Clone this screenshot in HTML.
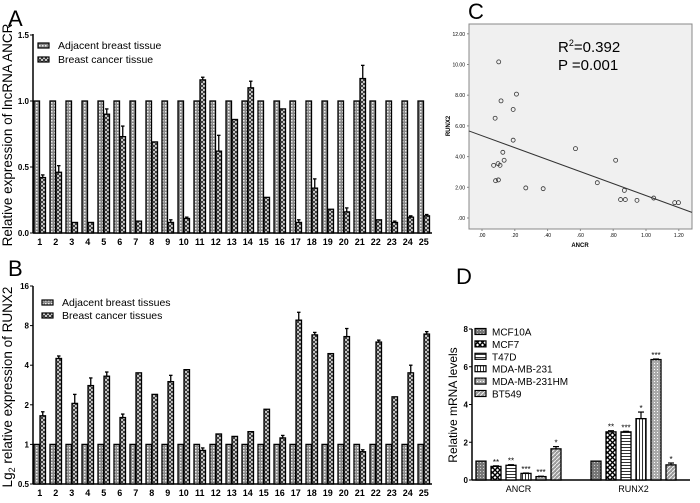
<!DOCTYPE html>
<html><head><meta charset="utf-8"><style>
body{margin:0;background:#fff;}
svg{display:block;font-family:"Liberation Sans",Arial,sans-serif;}
</style></head><body>
<svg id="fig" width="700" height="503" viewBox="0 0 700 503">
<defs>
<pattern id="pAdj" width="3" height="3" patternUnits="userSpaceOnUse"><rect width="3" height="3" fill="#888"/><rect width="1.5" height="1.5" fill="#eee"/></pattern>
<pattern id="pCan" width="4" height="4" patternUnits="userSpaceOnUse"><rect width="4" height="4" fill="#fff"/><path d="M0 0L4 4M4 0L0 4" stroke="#333" stroke-width="1.1"/></pattern>
<pattern id="pD0" width="3" height="3" patternUnits="userSpaceOnUse"><rect width="3" height="3" fill="#777"/><rect width="1" height="1" fill="#ccc"/></pattern>
<pattern id="pD1" width="5" height="5" patternUnits="userSpaceOnUse"><rect width="5" height="5" fill="#fff"/><path d="M0 0L5 5M5 0L0 5" stroke="#000" stroke-width="1.4"/></pattern>
<pattern id="pD2" width="4" height="3" patternUnits="userSpaceOnUse"><rect width="4" height="3" fill="#fff"/><rect y="0" width="4" height="1" fill="#333"/></pattern>
<pattern id="pD3" width="3" height="4" patternUnits="userSpaceOnUse"><rect width="3" height="4" fill="#fff"/><rect width="1" height="4" fill="#333"/></pattern>
<pattern id="pD4" width="3" height="3" patternUnits="userSpaceOnUse"><rect width="3" height="3" fill="#aaa"/><rect width="1" height="1" fill="#fff"/></pattern>
<pattern id="pD5" width="4" height="4" patternUnits="userSpaceOnUse"><rect width="4" height="4" fill="#999"/><path d="M0 4L4 0" stroke="#eee" stroke-width="1"/></pattern>
</defs>
<g id="gA"></g>
<g id="gB"></g>
<g id="gC"></g>
<g id="gD"></g>
</svg>
<script>
// Panel A data
const aCats=["1","2","3","4","5","6","7","8","9","10","11","12","13","14","15","16","17","18","19","20","21","22","23","24","25"];
const aAdj=[1,1,1,1,1,1,1,1,1,1,1,1,1,1,1,1,1,1,1,1,1,1,1,1,1];
const aCan=[0.42,0.46,0.08,0.08,0.9,0.73,0.09,0.69,0.08,0.11,1.16,0.62,0.86,1.1,0.27,0.94,0.08,0.34,0.18,0.16,1.17,0.1,0.08,0.12,0.13];
const aErr=[0.02,0.05,0,0,0.04,0.08,0,0,0.02,0.01,0.02,0.12,0,0.05,0,0,0.02,0.07,0,0.03,0.1,0,0.01,0.01,0.01];
const aTicks=[0,0.5,1.0,1.5];
// Panel B data
const bAdj=[1,1,1,1,1,1,1,1,1,1,1,1,1,1,1,1,1,1,1,1,1,1,1,1,1];
const bCan=[1.65,4.5,2.05,2.8,3.3,1.6,3.5,2.4,3.0,3.7,0.9,1.2,1.15,1.25,1.85,1.12,8.8,6.8,4.9,6.6,0.88,6.0,2.3,3.5,6.9];
const bErr=[0.12,0.2,0.35,0.4,0.25,0.1,0,0,0.35,0,0.04,0,0,0,0,0.05,1.3,0.3,0,1.0,0.03,0.2,0,0.5,0.3];
const bTicks=[0.5,1,2,4,8,16];
// Panel C data
const cX=[0.102,0.21,0.116,0.19,0.08,0.19,0.57,0.815,0.127,0.135,0.071,0.098,0.11,0.083,0.1,0.267,0.373,0.703,0.868,0.845,0.874,0.945,1.047,1.175,1.198];
const cY=[10.17,8.07,7.63,7.07,6.5,5.07,4.52,3.76,4.28,3.76,3.43,3.54,3.43,2.43,2.48,1.96,1.91,2.3,1.8,1.2,1.2,1.15,1.3,1.0,1.0];
const cFit=[5.36,-3.9]; // intercept, slope
const cXTicks=[0,0.2,0.4,0.6,0.8,1.0,1.2];
const cYTicks=[0,2,4,6,8,10,12];
// Panel D data
const dGroups=["ANCR","RUNX2"];
const dLines=["MCF10A","MCF7","T47D","MDA-MB-231","MDA-MB-231HM","BT549"];
const dANCR=[1,0.72,0.78,0.35,0.18,1.65];
const dRUNX2=[1,2.55,2.55,3.25,6.38,0.8];
const dErrA=[0,0.03,0.03,0.02,0.02,0.12];
const dErrR=[0,0.06,0.03,0.35,0.03,0.1];
const dStarA=["","**","**","***","***","*"];
const dStarR=["","**","***","*","***","*"];
const dTicks=[0,2,4,6,8];

const NS="http://www.w3.org/2000/svg";
function mk(p,t,a,txt){const e=document.createElementNS(NS,t);for(const k in a)e.setAttribute(k,a[k]);if(txt!==undefined)e.textContent=txt;p.appendChild(e);return e;}

// ---------- Panel A ----------
(function(){
const g=document.getElementById('gA');
const y=v=>233-v*132; const x0=34,pitch=16,bw=5.5;
let t=mk(g,'text',{x:8,y:26,'font-size':22},'A');


mk(g,'line',{x1:33,y1:34,x2:33,y2:233.5,stroke:'#000','stroke-width':1.5});
mk(g,'line',{x1:33,y1:233,x2:432,y2:233,stroke:'#000','stroke-width':1.5});
aTicks.forEach(v=>{mk(g,'line',{x1:30,y1:y(v),x2:33,y2:y(v),stroke:'#000'});
 t=mk(g,'text',{x:29,y:y(v)+3,'font-size':8,'font-weight':'bold','text-anchor':'end'},v.toFixed(1));
 
 });
t=mk(g,'text',{transform:'translate(12,135) rotate(-90)','font-size':13.5,'text-anchor':'middle'},'Relative expression of  lncRNA ANCR');


aCats.forEach((c,i)=>{const xa=x0+i*pitch;
 let r=mk(g,'rect',{x:xa,y:y(aAdj[i]),width:bw,height:233-y(aAdj[i]),fill:'url(#pAdj)',stroke:'#000','stroke-width':1.3});
 
 
 const xc=xa+bw+0.5;
 if(aErr[i]>0){mk(g,'line',{x1:xc+bw/2,y1:y(aCan[i]),x2:xc+bw/2,y2:y(aCan[i]+aErr[i]),stroke:'#000','stroke-width':1.3});
  mk(g,'line',{x1:xc+1,y1:y(aCan[i]+aErr[i]),x2:xc+bw-1,y2:y(aCan[i]+aErr[i]),stroke:'#000','stroke-width':1.3});}
 r=mk(g,'rect',{x:xc,y:y(aCan[i]),width:bw,height:233-y(aCan[i]),fill:'url(#pCan)',stroke:'#000','stroke-width':1.3});
 
 
 t=mk(g,'text',{x:xa+bw+0.3,y:245,'font-size':9,'font-weight':'bold','text-anchor':'middle'},c);
 
 });
[['url(#pAdj)','Adjacent breast tissue',47],['url(#pCan)','Breast cancer tissue',61]].forEach(l=>{
 const le=mk(g,'g',{});
 
 
 mk(le,'rect',{x:38,y:l[2]-4,width:11,height:5,fill:l[0],stroke:'#000','stroke-width':1.2});
 mk(le,'text',{x:58,y:l[2]+2,'font-size':10.5},l[1]);});
})();

// ---------- Panel B ----------
(function(){
const g=document.getElementById('gB');
const y=v=>484-(Math.log2(v)+1)*39.6; const x0=34,pitch=16,bw=5.5,base=484;
let t=mk(g,'text',{x:8,y:276,'font-size':22},'B');


mk(g,'line',{x1:33,y1:286,x2:33,y2:484.5,stroke:'#000','stroke-width':1.5});
mk(g,'line',{x1:33,y1:484,x2:432,y2:484,stroke:'#000','stroke-width':1.5});
bTicks.forEach(v=>{mk(g,'line',{x1:30,y1:y(v),x2:33,y2:y(v),stroke:'#000'});
 t=mk(g,'text',{x:29,y:y(v)+3,'font-size':8,'font-weight':'bold','text-anchor':'end'},String(v));
 
 });
t=mk(g,'text',{transform:'translate(12,387) rotate(-90)','font-size':13.5,'text-anchor':'middle'});
t.innerHTML='Lg<tspan font-size="9" dy="3">2</tspan><tspan dy="-3"> relative expression of  RUNX2</tspan>';


aCats.forEach((c,i)=>{const xa=x0+i*pitch;
 let r=mk(g,'rect',{x:xa,y:y(bAdj[i]),width:bw,height:base-y(bAdj[i]),fill:'url(#pAdj)',stroke:'#000','stroke-width':1.3});
 
 
 const xc=xa+bw+0.5;
 if(bErr[i]>0){const te=y(bCan[i]+bErr[i]);mk(g,'line',{x1:xc+bw/2,y1:y(bCan[i]),x2:xc+bw/2,y2:te,stroke:'#000','stroke-width':1.3});
  mk(g,'line',{x1:xc+1,y1:te,x2:xc+bw-1,y2:te,stroke:'#000','stroke-width':1.3});}
 r=mk(g,'rect',{x:xc,y:y(bCan[i]),width:bw,height:base-y(bCan[i]),fill:'url(#pCan)',stroke:'#000','stroke-width':1.3});
 
 
 t=mk(g,'text',{x:xa+bw+0.3,y:496,'font-size':9,'font-weight':'bold','text-anchor':'middle'},c);
 
 });
[['url(#pAdj)','Adjacent breast tissues',304],['url(#pCan)','Breast cancer tissues',317]].forEach(l=>{
 const le=mk(g,'g',{});
 
 
 mk(le,'rect',{x:42,y:l[2]-4,width:11,height:5,fill:l[0],stroke:'#000','stroke-width':1.2});
 mk(le,'text',{x:62,y:l[2]+2,'font-size':10.5},l[1]);});
})();

// ---------- Panel C ----------
(function(){
const g=document.getElementById('gC');
const x=v=>482+v/0.2*32.8, y=v=>218-v/2*30.7;
let t=mk(g,'text',{x:468,y:19,'font-size':22},'C');


let r=mk(g,'rect',{x:469,y:24,width:223,height:205,fill:'#f0f0f0',stroke:'#888','stroke-width':1});


cXTicks.forEach(v=>{mk(g,'line',{x1:x(v),y1:229,x2:x(v),y2:231,stroke:'#888'});
 t=mk(g,'text',{x:x(v),y:237,'font-size':5,'text-anchor':'middle'},v>=1?v.toFixed(2):'.'+(v.toFixed(2).split('.')[1]));
 
 });
cYTicks.forEach(v=>{mk(g,'line',{x1:467,y1:y(v),x2:469,y2:y(v),stroke:'#888'});
 t=mk(g,'text',{x:465,y:y(v)+2,'font-size':5,'text-anchor':'end'},v===0?'.00':v.toFixed(2));
 
 });
t=mk(g,'text',{x:580,y:247,'font-size':6,'font-weight':'bold','text-anchor':'middle'},'ANCR');


t=mk(g,'text',{transform:'translate(450,126) rotate(-90)','font-size':6,'font-weight':'bold','text-anchor':'middle'},'RUNX2');


const xl=-0.08,xr=1.28;
let l=mk(g,'line',{x1:x(xl),y1:y(cFit[0]+cFit[1]*xl),x2:x(xr),y2:y(cFit[0]+cFit[1]*xr),stroke:'#333','stroke-width':1});


cX.forEach((v,i)=>{const c=mk(g,'circle',{cx:x(v),cy:y(cY[i]),r:2,fill:'none',stroke:'#333','stroke-width':0.8});
 
 });
t=mk(g,'text',{x:558,y:52,'font-size':15});
t.innerHTML='R<tspan font-size="9" dy="-6">2</tspan><tspan dy="6">=0.392</tspan>';


t=mk(g,'text',{x:558,y:70,'font-size':15},'P =0.001');


})();

// ---------- Panel D ----------
(function(){
const g=document.getElementById('gD');
const y=v=>480-v/8*151; const bw=10, pitch=15, gx=[476,591];
const pats=['url(#pD0)','url(#pD1)','url(#pD2)','url(#pD3)','url(#pD4)','url(#pD5)'];
let t=mk(g,'text',{x:456,y:284,'font-size':22},'D');


mk(g,'line',{x1:472,y1:329,x2:472,y2:480.5,stroke:'#000','stroke-width':1.5});
mk(g,'line',{x1:472,y1:480,x2:690,y2:480,stroke:'#000','stroke-width':1.5});
dTicks.forEach(v=>{mk(g,'line',{x1:469,y1:y(v),x2:472,y2:y(v),stroke:'#000'});
 t=mk(g,'text',{x:468,y:y(v)+3,'font-size':8,'font-weight':'bold','text-anchor':'end'},String(v));
 
 });
t=mk(g,'text',{transform:'translate(457,405) rotate(-90)','font-size':12,'text-anchor':'middle'},'Relative mRNA levels');


[[dANCR,dErrA,dStarA],[dRUNX2,dErrR,dStarR]].forEach((s,gi)=>{
 s[0].forEach((v,i)=>{const xb=gx[gi]+i*pitch;
  if(s[1][i]>0){const te=y(v+s[1][i]);mk(g,'line',{x1:xb+bw/2,y1:y(v),x2:xb+bw/2,y2:te,stroke:'#000','stroke-width':1.2});
   mk(g,'line',{x1:xb+2,y1:te,x2:xb+bw-2,y2:te,stroke:'#000','stroke-width':1.2});}
  const r=mk(g,'rect',{x:xb,y:y(v),width:bw,height:480-y(v),fill:pats[i],stroke:'#000','stroke-width':1.3});
  
  
  if(s[2][i]){const st=mk(g,'text',{x:xb+bw/2,y:y(v+s[1][i])-1,'font-size':8,'text-anchor':'middle'},s[2][i]);
   
   }
 });
 t=mk(g,'text',{x:gx[gi]+2.5*pitch+bw/2,y:492,'font-size':9,'text-anchor':'middle'},dGroups[gi]);
 
 
});
dLines.forEach((n,i)=>{const yy=332+i*12.4;
 const le=mk(g,'g',{});
 
 
 mk(le,'rect',{x:475,y:yy-3.5,width:11,height:6,fill:pats[i],stroke:'#000','stroke-width':1.2});
 mk(le,'text',{x:492,y:yy+3.5,'font-size':10},n);});
})();
</script>
</body></html>
